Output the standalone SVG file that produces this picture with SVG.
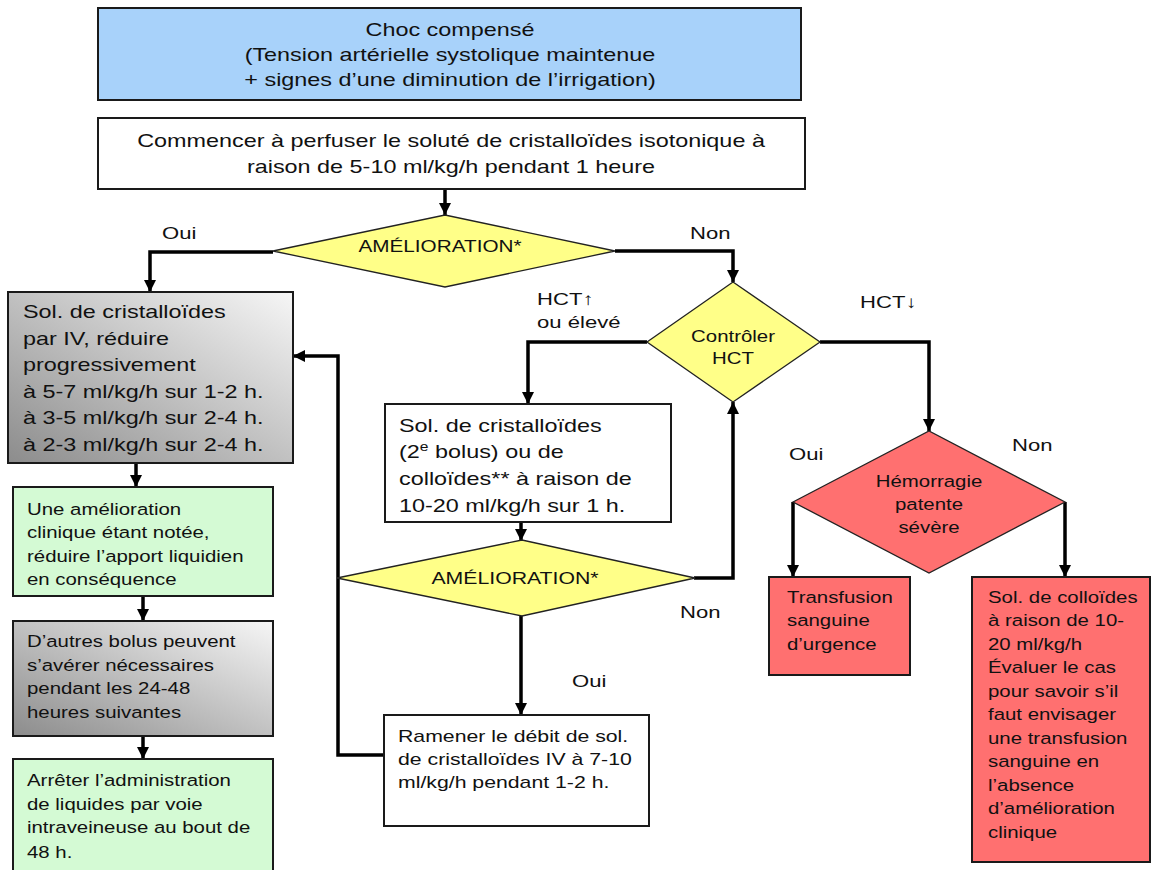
<svg xmlns="http://www.w3.org/2000/svg" width="1153" height="870" viewBox="0 0 1153 870">
<style>
text{font-family:"Liberation Sans",Arial,sans-serif;fill:#111}
.ta{font-size:18px}
.tb{font-size:17px}
.tl{font-size:17px}
.box{stroke:#1a1a1a;stroke-width:2}
.dia{stroke:#222;stroke-width:1.3}
.conn{fill:none;stroke:#000;stroke-width:3.5}
.blue{fill:#A8D2FA}
.white{fill:#fff}
.green{fill:#D4FAD4}
.red{fill:#FF7070}
.yellow{fill:#FFFF88}
</style>
<defs>
<linearGradient id="gray" x1="1" y1="0" x2="0" y2="1">
<stop offset="0" stop-color="#f6f6f6"/>
<stop offset="1" stop-color="#8c8c8c"/>
</linearGradient>
<marker id="arr" markerWidth="12" markerHeight="12" refX="12" refY="6" orient="auto" markerUnits="userSpaceOnUse">
<path d="M0,0 L12,6 L0,12 z" fill="#000"/>
</marker>
</defs>

<g id="connectors">
<path class="conn" d="M445,189 V215" marker-end="url(#arr)"/>
<path class="conn" d="M273,252 H150 V292" marker-end="url(#arr)"/>
<path class="conn" d="M615,251 H733 V282" marker-end="url(#arr)"/>
<path class="conn" d="M647,342 H528 V404" marker-end="url(#arr)"/>
<path class="conn" d="M820,342 H929 V431" marker-end="url(#arr)"/>
<path class="conn" d="M521,522 V541" marker-end="url(#arr)"/>
<path class="conn" d="M694,578 H733 V402" marker-end="url(#arr)"/>
<path class="conn" d="M521,616 V715" marker-end="url(#arr)"/>
<path class="conn" d="M384,755 H338 V356 H293" marker-end="url(#arr)"/>
<path class="conn" d="M136,463 V487" marker-end="url(#arr)"/>
<path class="conn" d="M143,596 V621" marker-end="url(#arr)"/>
<path class="conn" d="M143,736 V759" marker-end="url(#arr)"/>
<path class="conn" d="M793,502 V577" marker-end="url(#arr)"/>
<path class="conn" d="M1065,502 V577" marker-end="url(#arr)"/>
</g>

<g id="labels">
<text class="tl" transform="translate(162 0) scale(1.3 1)"><tspan x="0" y="239">Oui</tspan></text>
<text class="tl" transform="translate(690 0) scale(1.3 1)"><tspan x="0" y="239">Non</tspan></text>
<text class="tl" transform="translate(537 0) scale(1.3 1)"><tspan x="0" y="305">HCT↑</tspan><tspan x="0" y="328">ou élevé</tspan></text>
<text class="tl" transform="translate(860 0) scale(1.3 1)"><tspan x="0" y="308">HCT↓</tspan></text>
<text class="tl" transform="translate(789 0) scale(1.3 1)"><tspan x="0" y="460">Oui</tspan></text>
<text class="tl" transform="translate(1012 0) scale(1.3 1)"><tspan x="0" y="451">Non</tspan></text>
<text class="tl" transform="translate(680 0) scale(1.3 1)"><tspan x="0" y="618">Non</tspan></text>
<text class="tl" transform="translate(572 0) scale(1.3 1)"><tspan x="0" y="687">Oui</tspan></text>
</g>

<g id="n-choc">
<rect class="box blue" x="98" y="8" width="703" height="92"/>
<text class="ta" text-anchor="middle" transform="translate(450 0) scale(1.3 1)"><tspan x="0" y="36">Choc compensé</tspan><tspan x="0" y="61">(Tension artérielle systolique maintenue</tspan><tspan x="0" y="86">+ signes d’une diminution de l’irrigation)</tspan></text>
</g>

<g id="n-commencer">
<rect class="box white" x="98" y="118" width="707" height="71"/>
<text class="ta" text-anchor="middle" transform="translate(451 0) scale(1.3 1)"><tspan x="0" y="147">Commencer à perfuser le soluté de cristalloïdes isotonique à</tspan><tspan x="0" y="173">raison de 5-10 ml/kg/h pendant 1 heure</tspan></text>
</g>

<g id="n-amelioration1">
<polygon class="dia yellow" points="273,251 445,215 615,251 445,287"/>
<text class="tb" text-anchor="middle" transform="translate(440 0) scale(1.22 1)"><tspan x="0" y="252">AMÉLIORATION*</tspan></text>
</g>

<g id="n-reduire">
<rect class="box" fill="url(#gray)" x="8" y="292" width="285" height="171"/>
<text class="ta" transform="translate(23 0) scale(1.3 1)"><tspan x="0" y="318">Sol. de cristalloïdes</tspan><tspan x="0" y="345">par IV, réduire</tspan><tspan x="0" y="371">progressivement</tspan><tspan x="0" y="398">à 5-7 ml/kg/h sur 1-2 h.</tspan><tspan x="0" y="424">à 3-5 ml/kg/h sur 2-4 h.</tspan><tspan x="0" y="451">à 2-3 ml/kg/h sur 2-4 h.</tspan></text>
</g>

<g id="n-controler">
<polygon class="dia yellow" points="647,342 733,282 820,342 733,402"/>
<text class="tb" text-anchor="middle" transform="translate(733 0) scale(1.2 1)"><tspan x="0" y="342">Contrôler</tspan><tspan x="0" y="364">HCT</tspan></text>
</g>

<g id="n-bolus">
<rect class="box white" x="385" y="404" width="286" height="118"/>
<text class="ta" transform="translate(399 0) scale(1.3 1)"><tspan x="0" y="432">Sol. de cristalloïdes</tspan><tspan x="0" y="458">(2<tspan dy="-7" font-size="12">e</tspan><tspan dy="7"> bolus) ou de</tspan></tspan><tspan x="0" y="485">colloïdes** à raison de</tspan><tspan x="0" y="512">10-20 ml/kg/h sur 1 h.</tspan></text>
</g>

<g id="n-amelioration2">
<polygon class="dia yellow" points="337,578 522,540 695,578 522,616"/>
<text class="tb" text-anchor="middle" transform="translate(515 0) scale(1.25 1)"><tspan x="0" y="584">AMÉLIORATION*</tspan></text>
</g>

<g id="n-ramener">
<rect class="box white" x="384" y="715" width="265" height="111"/>
<text class="tb" transform="translate(398 0) scale(1.25 1)"><tspan x="0" y="742">Ramener le débit de sol.</tspan><tspan x="0" y="765">de cristalloïdes IV à 7-10</tspan><tspan x="0" y="788">ml/kg/h pendant 1-2 h.</tspan></text>
</g>

<g id="n-hemorragie">
<polygon class="dia red" points="793,502 929,431 1065,502 929,573"/>
<text class="tb" text-anchor="middle" transform="translate(929 0) scale(1.2 1)"><tspan x="0" y="487">Hémorragie</tspan><tspan x="0" y="510">patente</tspan><tspan x="0" y="533">sévère</tspan></text>
</g>

<g id="n-transfusion">
<rect class="box red" x="769" y="577" width="141" height="98"/>
<text class="tb" transform="translate(787 0) scale(1.2 1)"><tspan x="0" y="603">Transfusion</tspan><tspan x="0" y="626.5">sanguine</tspan><tspan x="0" y="650">d’urgence</tspan></text>
</g>

<g id="n-colloides">
<rect class="box red" x="972" y="577" width="178" height="285"/>
<text class="tb" transform="translate(988 0) scale(1.2 1)"><tspan x="0" y="603">Sol. de colloïdes</tspan><tspan x="0" y="626.5">à raison de 10-</tspan><tspan x="0" y="650">20 ml/kg/h</tspan><tspan x="0" y="673.5">Évaluer le cas</tspan><tspan x="0" y="697">pour savoir s’il</tspan><tspan x="0" y="720.5">faut envisager</tspan><tspan x="0" y="744">une transfusion</tspan><tspan x="0" y="767.5">sanguine en</tspan><tspan x="0" y="791">l’absence</tspan><tspan x="0" y="814.5">d’amélioration</tspan><tspan x="0" y="838">clinique</tspan></text>
</g>

<g id="n-amelioration-clinique">
<rect class="box green" x="13" y="487" width="260" height="109"/>
<text class="tb" transform="translate(27 0) scale(1.2 1)"><tspan x="0" y="515">Une amélioration</tspan><tspan x="0" y="538">clinique étant notée,</tspan><tspan x="0" y="562">réduire l’apport liquidien</tspan><tspan x="0" y="585">en conséquence</tspan></text>
</g>

<g id="n-autres-bolus">
<rect class="box" fill="url(#gray)" x="13" y="621" width="260" height="115"/>
<text class="tb" transform="translate(27 0) scale(1.2 1)"><tspan x="0" y="647">D’autres bolus peuvent</tspan><tspan x="0" y="671">s’avérer nécessaires</tspan><tspan x="0" y="694">pendant les 24-48</tspan><tspan x="0" y="718">heures suivantes</tspan></text>
</g>

<g id="n-arreter">
<rect class="box green" x="13" y="759" width="260" height="114"/>
<text class="tb" transform="translate(27 0) scale(1.2 1)"><tspan x="0" y="786">Arrêter l’administration</tspan><tspan x="0" y="810">de liquides par voie</tspan><tspan x="0" y="833">intraveineuse au bout de</tspan><tspan x="0" y="858">48 h.</tspan></text>
</g>
</svg>
